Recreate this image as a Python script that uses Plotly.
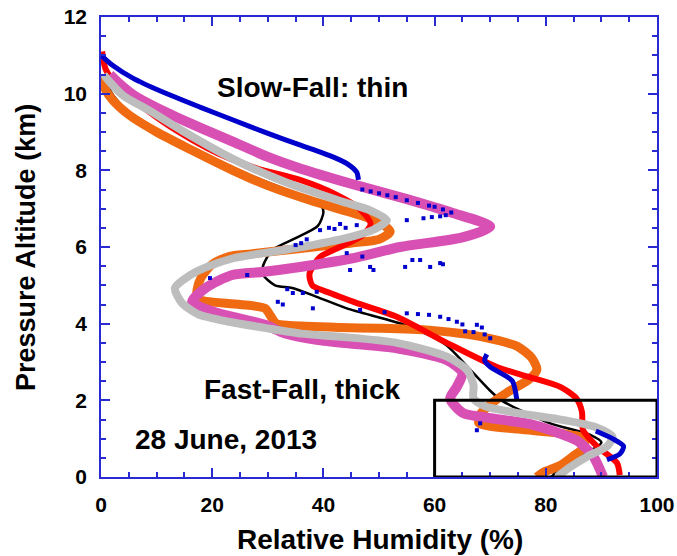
import plotly.graph_objects as go

# Relative humidity profiles (RH %, pressure altitude km), 28 June 2013

black_rh = [0.3, 2, 5, 9, 12, 20, 28, 35, 39.5, 40, 39, 35, 30.8, 29.2, 29.0, 31.3, 34.4,
            38.8, 44.2, 55.6, 62, 66.4, 70, 72, 80.8, 88, 90, 87, 83, 81]
black_alt = [10.5, 10.0, 9.5, 9.1, 8.85, 8.3, 7.8, 7.4, 7.1, 6.9, 6.55, 6.23, 5.92, 5.53,
             5.3, 5.0, 4.93, 4.7, 4.4, 3.92, 3.45, 2.8, 2.25, 2.0, 1.4, 1.1, 0.9, 0.6, 0.3, 0.0]

orange_rh = [0, 0.5, 2, 5, 10, 16, 23.7, 30, 38, 45, 50, 52, 50, 44.8, 35, 27, 23, 20, 18,
             17.3, 17.3, 19, 25, 29.5, 30.5, 31.5, 34, 43, 50, 59, 66, 71.2, 75, 77.5, 78.4,
             77, 73, 70.5, 68, 68, 75, 82, 87, 86.7, 85, 82.6, 79.5, 78.4]
orange_alt = [10.5, 10.2, 9.85, 9.45, 9.0, 8.55, 8.0, 7.6, 7.2, 6.9, 6.65, 6.4, 6.2, 6.1,
              5.95, 5.82, 5.75, 5.55, 5.2, 4.9, 4.65, 4.58, 4.5, 4.4, 4.2, 4.0, 3.95, 3.9,
              3.88, 3.83, 3.72, 3.57, 3.4, 3.1, 2.8, 2.55, 2.2, 1.95, 1.6, 1.4, 1.25, 1.15,
              1.0, 0.75, 0.55, 0.3, 0.12, 0.0]

red_rh = [0.2, 0.8, 3, 8, 14, 20.9, 28, 35.8, 42.4, 46.5, 48.5, 47, 43, 39.4, 37.5, 38,
          41.2, 45.8, 53.2, 62.2, 71.2, 77.2, 82.6, 85.5, 86.5, 86.7, 89.2, 92.8, 93.3]
red_alt = [11.1, 10.65, 10.2, 9.6, 9.0, 8.45, 8.05, 7.75, 7.36, 7.0, 6.6, 6.3, 6.0, 5.74,
           5.3, 5.0, 4.8, 4.55, 4.18, 3.5, 2.87, 2.6, 2.35, 2.05, 1.7, 1.22, 0.8, 0.37, 0.05]

pink_rh = [1.6, 3, 6, 11.9, 18, 23.7, 30, 35.8, 45, 55, 63, 70, 65, 53.8, 45, 35.8, 29,
           23.6, 19, 16.4, 20.5, 29.5, 33, 38.8, 44.8, 53.2, 62.2, 65, 64, 62.8, 65.1, 69.4,
           77.2, 81.3, 85.6, 88.5, 90.3]
pink_alt = [10.5, 10.3, 9.95, 9.5, 9.1, 8.75, 8.35, 8.05, 7.65, 7.25, 6.9, 6.53, 6.25, 6.0,
            5.7, 5.48, 5.35, 5.27, 4.95, 4.57, 4.3, 3.97, 3.75, 3.58, 3.48, 3.36, 3.05, 2.72,
            2.35, 2.05, 1.67, 1.55, 1.38, 1.2, 0.95, 0.55, 0.0]

gray_rh = [0.5, 1.3, 4, 8.8, 15, 23.7, 33, 43, 48.5, 51.4, 49, 44.8, 35, 23.6, 17, 13.3,
           14.5, 17.4, 23, 29.5, 36, 43, 53.2, 62.2, 65.8, 67, 67, 69, 75.4, 83, 89,
           92, 91, 87.4, 84.4, 82]
gray_alt = [10.5, 10.35, 9.95, 9.55, 9.0, 8.3, 7.7, 7.2, 6.95, 6.7, 6.45, 6.26, 5.97, 5.7,
            5.35, 4.93, 4.55, 4.25, 4.05, 3.89, 3.74, 3.66, 3.5, 3.14, 2.8, 2.4, 2.05,
            1.85, 1.66, 1.49, 1.3, 1.05, 0.8, 0.53, 0.26, 0.0]

# continuous stretches of the blue profile (None separates them)
blue_rh = [0, 2, 5.8, 11, 17.8, 24, 29.9, 36, 41.7, 44.5, 46, 46.3, None,
           69.4, 69, 70, 72, 74, 74.8, None,
           89, 92, 94, 93.3, 91]
blue_alt = [11.0, 10.75, 10.4, 10.05, 9.65, 9.3, 8.97, 8.65, 8.35, 8.15, 7.95, 7.75, None,
            3.2, 3.05, 2.87, 2.7, 2.5, 2.0, None,
            1.2, 1.0, 0.8, 0.6, 0.45]

# isolated blue samples
blue_pts_rh = [47, 48.5, 50, 51.5, 53, 55, 57, 59, 60, 61.5, 63,
               55, 58, 59.5, 61, 62,
               35, 36, 37, 39.4, 41, 42, 43, 44, 46,
               44.2, 44.8, 47, 48.4, 49, 54.7, 56, 57.4, 59.2, 61, 61.5,
               19.6, 26.3, 31.8, 32.7, 33.5, 34.5, 36.3, 38.1, 38.8,
               46.6, 51, 55, 57, 59, 61, 62.5, 64, 65, 67.6, 68.5, 65.5, 67, 69, 70,
               67.6, 68.2]
blue_pts_alt = [7.5, 7.45, 7.4, 7.35, 7.3, 7.22, 7.15, 7.08, 7.05, 6.98, 6.9,
                6.7, 6.75, 6.78, 6.8, 6.83,
                6.05, 6.1, 6.2, 6.44, 6.5, 6.47, 6.6, 6.5, 6.57,
                5.84, 5.4, 5.75, 5.48, 5.4, 5.48, 5.66, 5.66, 5.48, 5.58, 5.55,
                5.19, 5.27, 4.57, 4.5, 4.9, 4.8, 4.8, 4.4, 4.83,
                4.36, 4.3, 4.27, 4.25, 4.23, 4.18, 4.12, 4.05, 3.98, 3.97, 3.9, 3.8,
                3.78, 3.72, 3.62,
                1.22, 1.4]

x_ticks = [0, 20, 40, 60, 80, 100]
y_ticks = [0, 2, 4, 6, 8, 10, 12]

FONT = "Liberation Sans, Arial, sans-serif"
AXIS_BLUE = "#2a2ad2"

fig = go.Figure()


def profile(rh, alt, color, width):
    fig.add_trace(go.Scatter(
        x=rh, y=alt, mode="lines",
        line=dict(color=color, width=width, shape="spline", smoothing=0.7),
        connectgaps=False, hoverinfo="skip", showlegend=False))


profile(black_rh, black_alt, "black", 2.5)
profile(orange_rh, orange_alt, "#f06a12", 9)
profile(red_rh, red_alt, "#ff0000", 6)
profile(pink_rh, pink_alt, "#d950b4", 10)
profile(gray_rh, gray_alt, "#bdbdbd", 8)
profile(blue_rh, blue_alt, "#0000cc", 5)
fig.add_trace(go.Scatter(
    x=blue_pts_rh, y=blue_pts_alt, mode="markers",
    marker=dict(color="#0000cc", symbol="square", size=4),
    hoverinfo="skip", showlegend=False))

# surface-layer box
fig.add_shape(type="rect", xref="x", yref="y", x0=60, x1=100, y0=0, y1=2,
              line=dict(color="black", width=3))

label_font = dict(family=FONT, size=28, color="black", weight="bold")
for txt, x, y in [("Slow-Fall: thin", 38.0, 10.17),
                  ("Fast-Fall, thick", 36.2, 2.27),
                  ("28 June, 2013", 22.5, 0.97)]:
    fig.add_annotation(x=x, y=y, xref="x", yref="y", text=txt, showarrow=False,
                       font=label_font)

# axis titles placed as paper-anchored labels
title_font = dict(family=FONT, size=28, color="black", weight="bold")
fig.add_annotation(x=0.502, y=-0.135, xref="paper", yref="paper",
                   text="Relative Humidity (%)", showarrow=False,
                   xanchor="center", yanchor="middle", font=title_font)
fig.add_annotation(x=-0.135, y=0.5, xref="paper", yref="paper",
                   text="Pressure Altitude (km)", showarrow=False, textangle=-90,
                   xanchor="center", yanchor="middle",
                   font=dict(family=FONT, size=27, color="black", weight="bold"))

axis_common = dict(
    showline=True, linecolor=AXIS_BLUE, linewidth=1.5, mirror="allticks",
    ticks="inside", ticklen=9, tickwidth=1.5, tickcolor=AXIS_BLUE,
    showgrid=False, zeroline=False, automargin=False,
    tickfont=dict(family=FONT, size=21, color="black", weight="bold"),
)

fig.update_xaxes(range=[0, 100], tickvals=x_ticks, ticktext=[str(v) for v in x_ticks],
                 minor=dict(dtick=5, ticks="inside", ticklen=5, tickcolor=AXIS_BLUE,
                            tickwidth=1.5),
                 ticklabelstandoff=8,
                 **axis_common)
fig.update_yaxes(range=[0, 12], tickvals=y_ticks, ticktext=[str(v) for v in y_ticks],
                 minor=dict(dtick=0.5, ticks="inside", ticklen=5, tickcolor=AXIS_BLUE,
                            tickwidth=1.5),
                 ticklabelstandoff=8,
                 **axis_common)

fig.update_layout(
    width=677, height=556,
    margin=dict(l=101, r=20, t=17, b=79),
    paper_bgcolor="white", plot_bgcolor="white",
)

fig.write_html("out.html")
